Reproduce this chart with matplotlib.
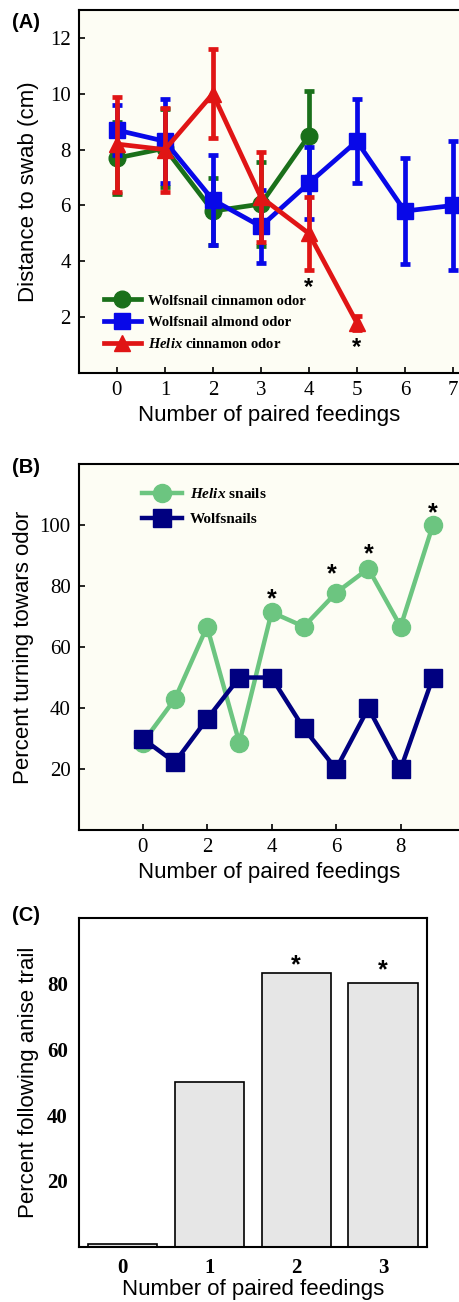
import numpy as np
import matplotlib
matplotlib.use('Agg')
from matplotlib import pyplot as plt
from matplotlib.lines import Line2D

# (A) distance to swab
xa_green = [0, 1, 2, 3, 4]
ya_green = [7.7, 8.05, 5.8, 6.05, 8.5]
ea_green = [1.3, 1.4, 1.2, 1.5, 1.6]
xa_blue = [0, 1, 2, 3, 4, 5, 6, 7]
ya_blue = [8.7, 8.3, 6.2, 5.25, 6.8, 8.3, 5.8, 6.0]
ea_blue = [0.9, 1.5, 1.6, 1.3, 1.3, 1.5, 1.9, 2.3]
xa_red = [0, 1, 2, 3, 4, 5]
ya_red = [8.2, 8.0, 10.0, 6.3, 5.0, 1.8]
ea_red = [1.7, 1.5, 1.6, 1.6, 1.3, 0.25]
stars_a_x = [4, 5]
stars_a_y = [3.05, 0.9]

# (B) percent turning towards odor
xb = [0, 1, 2, 3, 4, 5, 6, 7, 8, 9]
yb_helix = [28.6, 42.9, 66.7, 28.6, 71.4, 66.7, 77.8, 85.7, 66.7, 100]
yb_wolf = [30, 22.2, 36.4, 50, 50, 33.3, 20, 40, 20, 50]
stars_b_x = [4, 5.85, 7, 9]
stars_b_y = [75.5, 84, 90.5, 104]

# (C) percent following anise trail
xc = [0, 1, 2, 3]
yc = [0.8, 50, 83.3, 80]
stars_c_x = [2, 3]
stars_c_y = [85.5, 84]

serif = 'Liberation Serif'
sans = 'Liberation Sans'
bg = '#fdfdf4'

plt.rcParams['mathtext.fontset'] = 'custom'
plt.rcParams['mathtext.rm'] = serif
plt.rcParams['mathtext.it'] = serif + ':italic'
plt.rcParams['mathtext.bf'] = serif + ':bold'
plt.rcParams['mathtext.bfit'] = serif + ':italic:bold'

fig = plt.figure(figsize=(4.6, 13.02), dpi=100)

def style(ax, bold=False):
    for s in ax.spines.values():
        s.set_linewidth(1.5)
    for lab in ax.get_xticklabels() + ax.get_yticklabels():
        lab.set_fontfamily(serif)
        lab.set_fontsize(15)
        if bold:
            lab.set_fontweight('bold')

# ---- panel A
ax = fig.add_axes([0.1717, 0.7135, 0.8283, 0.2788])
ax.set_facecolor(bg)
kw = dict(lw=3.4, elinewidth=3.4, capsize=3.8, capthick=3.4, markersize=12)
ax.errorbar(xa_green, ya_green, yerr=ea_green, color='#1a701a', marker='o',
            zorder=3, **kw)
ax.errorbar(xa_blue, ya_blue, yerr=ea_blue, color='#0808e8', marker='s',
            zorder=4, **kw)
ax.errorbar(xa_red, ya_red, yerr=ea_red, color='#e01515', marker='^',
            zorder=5, **kw)
for sx, sy in zip(stars_a_x, stars_a_y):
    ax.text(sx, sy, '*', ha='center', va='center', fontsize=17,
            fontweight='bold', family=sans, zorder=6)
ax.set_xlim(-0.79, 7.15)
ax.set_ylim(0, 13)
ax.set_xticks(range(8))
ax.set_yticks([2, 4, 6, 8, 10, 12])
ax.tick_params(direction='in', length=4, width=1.2, pad=6)
ax.spines['right'].set_visible(False)
ax.set_xlabel('Number of paired feedings', family=sans, fontsize=16, labelpad=3)
ax.set_ylabel('Distance to swab (cm)', family=sans, fontsize=16, labelpad=8)
handles = [Line2D([], [], color='#1a701a', marker='o', lw=3.4, markersize=12),
           Line2D([], [], color='#0808e8', marker='s', lw=3.4, markersize=12),
           Line2D([], [], color='#e01515', marker='^', lw=3.4, markersize=12)]
labels = ['Wolfsnail cinnamon odor', 'Wolfsnail almond odor',
          '$\\mathbfit{Helix}$ cinnamon odor']
ax.legend(handles, labels, loc='lower left', bbox_to_anchor=(0.03, 0.025),
          frameon=False, handlelength=2.6, handletextpad=0.45, labelspacing=0.55,
          prop=dict(family=serif, weight='bold', size=10.5))
style(ax)
fig.text(0.026, 0.983, '(A)', family=sans, fontweight='bold', fontsize=14.5,
         va='center')

# ---- panel B
ax = fig.add_axes([0.1717, 0.3625, 0.8283, 0.2811])
ax.set_facecolor(bg)
ax.plot(xb, yb_helix, color='#6cc580', marker='o', lw=3.2, markersize=13,
        label='$\\mathbfit{Helix}$ snails', zorder=3)
ax.plot(xb, yb_wolf, color='#000080', marker='s', lw=3.2, markersize=13,
        label='Wolfsnails', zorder=4)
for sx, sy in zip(stars_b_x, stars_b_y):
    ax.text(sx, sy, '*', ha='center', va='center', fontsize=18,
            fontweight='bold', family=sans)
ax.set_xlim(-1.97, 9.84)
ax.set_ylim(0, 120)
ax.set_xticks([0, 2, 4, 6, 8])
ax.set_yticks([20, 40, 60, 80, 100])
ax.tick_params(direction='in', length=4, width=1.2, pad=6)
ax.spines['right'].set_visible(False)
ax.set_xlabel('Number of paired feedings', family=sans, fontsize=16, labelpad=3)
ax.set_ylabel('Percent turning towars odor', family=sans, fontsize=16, labelpad=4)
ax.legend(loc='upper left', bbox_to_anchor=(0.13, 0.975), frameon=False,
          handlelength=2.6, handletextpad=0.5, labelspacing=0.75,
          prop=dict(family=serif, weight='bold', size=11))
style(ax)
fig.text(0.026, 0.641, '(B)', family=sans, fontweight='bold', fontsize=14.5,
         va='center')

# ---- panel C
ax = fig.add_axes([0.1717, 0.0425, 0.7559, 0.2527])
ax.bar(xc, yc, width=0.8, color='#e6e6e6', edgecolor='black', linewidth=1.2)
for sx, sy in zip(stars_c_x, stars_c_y):
    ax.text(sx, sy, '*', ha='center', va='center', fontsize=18,
            fontweight='bold', family=sans)
ax.set_xlim(-0.505, 3.505)
ax.set_ylim(0, 100)
ax.set_xticks(xc)
ax.set_yticks([20, 40, 60, 80])
ax.tick_params(length=0, pad=8)
ax.set_xlabel('Number of paired feedings', family=sans, fontsize=16, labelpad=1)
ax.set_ylabel('Percent following anise trail', family=sans, fontsize=16, labelpad=6)
style(ax, bold=True)
fig.text(0.026, 0.297, '(C)', family=sans, fontweight='bold', fontsize=14.5,
         va='center')

fig.savefig('out.png', dpi=100)
